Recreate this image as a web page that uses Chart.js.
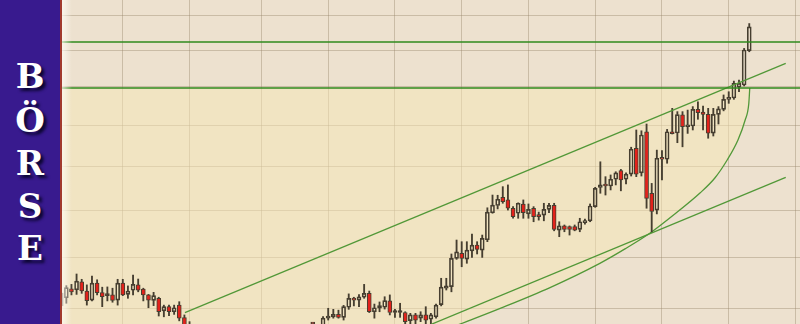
<!DOCTYPE html>
<html>
<head>
<meta charset="utf-8">
<script src="https://cdn.jsdelivr.net/npm/chart.js@4.4.1/dist/chart.umd.min.js"></script>
<style>
  body { margin: 0; width: 800px; height: 324px; overflow: hidden; background: #ede1cf; }
  #side { position: absolute; left: 0; top: 0; width: 60px; height: 324px; background: #381a8e; }
  #side div { position: absolute; left: 0; width: 60px; text-align: center; color: #fff;
    font: bold 34px "DejaVu Serif"; line-height: 34px; text-shadow: 3px 3px 3px rgba(8, 4, 40, .9); }
  #edge { position: absolute; left: 60px; top: 0; width: 2px; height: 324px; background: #a23a2e; }
  #wrap { position: absolute; left: 62px; top: 0; width: 738px; height: 324px; background: #ede1cf; }
  #glow { position: absolute; left: 62px; top: 0; width: 10px; height: 324px;
    background: linear-gradient(to right, rgba(255, 252, 245, .7), rgba(255, 252, 245, 0)); }
</style>
</head>
<body>
<div id="side">
  <div style="top:59px">B</div>
  <div style="top:103px">Ö</div>
  <div style="top:146px">R</div>
  <div style="top:189px">S</div>
  <div style="top:231px">E</div>
</div>
<div id="edge"></div>
<div id="wrap"><canvas id="chart" width="738" height="324"></canvas></div>
<div id="glow"></div>
<script>
// daily candles, index = trading day
const opens = [12040,12195,12370,12350,12505,12325,12150,12480,12295,12235,
  12250,12150,12480,12260,12340,12445,12365,12250,12145,12185,
  11945,12025,11930,12055,11820,11660,11520,11430,11350,11440,
  11290,11180,11250,11090,11170,11110,10980,11080,11200,11120,
  11270,11230,11150,11330,11400,11340,11430,11510,11460,11550,
  11520,11640,11810,11835,11880,11825,12015,12185,12150,12205,
  12280,11930,11995,12015,12135,11915,11915,11915,11765,11870,
  11810,11870,11790,11835,12065,12380,12410,12975,13080,12960,
  13130,13250,13145,13360,13940,14100,14285,14225,14040,13930,
  14135,13915,14040,13885,13890,14015,14105,13565,13655,13640,
  13640,13580,13725,13765,14075,14510,14585,14540,14695,14895,
  14695,14815,15430,14845,15835,14375,14000,15210,15165,15820,
  15805,16260,15960,15980,16405,16335,16275,15800,16275,16405,
  16665,16700,16985,17045,17990];
const highs = [12300,12430,12455,12660,12555,12445,12620,12545,12400,12405,
  12380,12555,12555,12425,12640,12560,12380,12260,12300,12205,
  12055,12055,12055,12120,11870,11745,11640,11510,11470,11520,
  11330,11300,11290,11210,11260,11150,11120,11230,11280,11310,
  11380,11300,11360,11420,11480,11450,11560,11590,11580,11650,
  11660,11840,11995,11975,11960,12050,12270,12205,12255,12455,
  12325,12075,12115,12215,12250,11975,12090,11930,11900,11900,
  11930,12025,11900,12075,12575,12575,13065,13355,13320,13320,
  13480,13320,13460,14050,14335,14330,14525,14565,14075,14160,
  14225,14135,14075,13955,14150,14150,14150,13745,13675,13655,
  13675,13820,13800,14135,14510,15105,14755,14795,14870,14925,
  14845,15455,15880,15860,16030,14600,15385,15375,15895,16430,
  16345,16345,16385,16475,16600,16490,16430,16430,16475,16780,
  16865,17150,17180,18055,18775];
const lows = [12000,12090,12250,12260,12280,12055,12135,12250,12025,12135,
  12110,12055,12235,12185,12250,12310,12135,12005,12045,11850,
  11835,11855,11880,11760,11520,11450,11380,11300,11280,11260,
  11120,11100,11050,11000,11080,10920,10900,11040,11090,11100,
  11190,11110,11130,11260,11300,11280,11390,11420,11440,11480,
  11500,11600,11775,11810,11810,11775,11975,12040,12025,12185,
  11915,11810,11930,11980,11870,11825,11825,11700,11700,11700,
  11745,11700,11700,11810,12040,12345,12310,12955,12805,12875,
  12995,13065,12995,13320,13930,14025,14150,14000,13820,13820,
  13820,13820,13745,13780,13765,13940,13550,13425,13530,13460,
  13550,13530,13695,13745,14060,14375,14335,14450,14565,14430,
  14585,14770,14755,14770,14040,13515,13915,14680,15070,15780,
  15565,15465,15795,15880,16150,15880,15675,15730,16030,16365,
  16560,16665,16865,17020,17960];
const closes = [12285,12390,12310,12520,12325,12140,12480,12295,12215,12250,
  12145,12480,12250,12325,12455,12340,12250,12150,12235,11930,
  12025,11930,12005,11810,11600,11560,11430,11350,11440,11290,
  11180,11250,11090,11170,11110,10980,11080,11200,11120,11270,
  11230,11150,11330,11400,11340,11430,11510,11460,11550,11520,
  11620,11810,11850,11880,11825,12025,12185,12150,12215,12280,
  11930,12005,12045,12140,11915,11925,11925,11745,11870,11775,
  11870,11775,11870,12055,12400,12425,12975,13110,12975,13145,
  13250,13160,13390,13955,14110,14240,14185,14040,13855,14150,
  13940,14015,13855,13855,14015,14105,13580,13655,13580,13580,
  13565,13745,13765,14090,14485,14565,14540,14695,14845,14680,
  14815,15405,14815,15755,14260,13970,15190,15165,15835,15785,
  16270,15960,16005,16405,16320,16275,15800,16275,16415,16665,
  16720,17090,17090,18010,18675];

// grid positions
const gridDays = [12, 25, 39, 52, 65, 78, 91, 104, 117, 130, 143];
const gridLevels = [12000, 13000, 14000, 15000, 16000, 17000, 18000, 19000];

// drawn lines
const levels = [18237, 16964];
const upperX = [24.1, 141.1], upperY = [11912, 17637];
const lowerX = [61, 141.1], lowerY = [11270, 14740];
const arcX = [0, 62.1, 77.7, 85.5, 95.2, 104.9, 109.8, 114.7, 119.5, 124.4, 127.3, 129.7, 131.8, 133.2, 133.9, 134.1];
const arcY = [9000, 11145, 11702, 11994, 12393, 12874, 13170, 13503, 13913, 14380, 14724, 15147, 15631, 16131, 16542, 16964];

const DOWN = '#e3221b', EDGE = '#463e30', HOLLOW = 'rgba(0,0,0,0)';
const GREEN = '#2f8a1c', TREND = '#529838';

const pts = (xs, ys) => xs.map((x, k) => ({ x: x, y: ys[k] }));
const bodies = opens.map((o, k) => ({ x: k, y: [o, closes[k]] }));
const upperWick = opens.map((o, k) => ({ x: k, y: [Math.max(o, closes[k]), highs[k]] }));
const lowerWick = opens.map((o, k) => ({ x: k, y: [lows[k], Math.min(o, closes[k])] }));

const lineBase = { type: 'line', pointRadius: 0, borderWidth: 1.3, order: 0 };

new Chart(document.getElementById('chart'), {
  data: {
    datasets: [
      { type: 'bar', data: bodies, grouped: false, barThickness: 4, minBarLength: 2,
        backgroundColor: opens.map((o, k) => closes[k] < o ? DOWN : HOLLOW),
        borderColor: EDGE, borderWidth: 1, borderSkipped: false, order: 1 },
      { type: 'bar', data: upperWick, grouped: false, barThickness: 1.2, backgroundColor: EDGE, order: 2 },
      { type: 'bar', data: lowerWick, grouped: false, barThickness: 1.2, backgroundColor: EDGE, order: 2 },
      { ...lineBase, data: pts([-2, 146], [levels[0], levels[0]]), borderColor: GREEN, borderWidth: 1.6 },
      { ...lineBase, data: pts([-2, 146], [levels[1], levels[1]]), borderColor: GREEN, borderWidth: 1.6 },
      { ...lineBase, data: pts(upperX, upperY), borderColor: TREND },
      { ...lineBase, data: pts(lowerX, lowerY), borderColor: TREND },
      { ...lineBase, data: pts(arcX, arcY), borderColor: TREND, cubicInterpolationMode: 'monotone',
        fill: { value: levels[1] }, backgroundColor: 'rgba(246,231,182,0.5)', order: 10 }
    ]
  },
  options: {
    responsive: false,
    animation: false,
    layout: { padding: 0 },
    plugins: { legend: { display: false }, tooltip: { enabled: false } },
    scales: {
      x: {
        type: 'linear', min: 0.163, max: 143.88, offset: false,
        afterBuildTicks: s => { s.ticks = gridDays.map(v => ({ value: v })); },
        ticks: { display: false },
        grid: { color: 'rgba(150,132,105,0.4)', drawTicks: false, offset: false },
        border: { display: false }
      },
      y: {
        type: 'logarithmic', min: 11702, max: 19484,
        afterBuildTicks: s => { s.ticks = gridLevels.map(v => ({ value: v })); },
        ticks: { display: false },
        grid: { color: 'rgba(150,132,105,0.4)', drawTicks: false },
        border: { display: false }
      }
    }
  }
});
</script>
</body>
</html>
